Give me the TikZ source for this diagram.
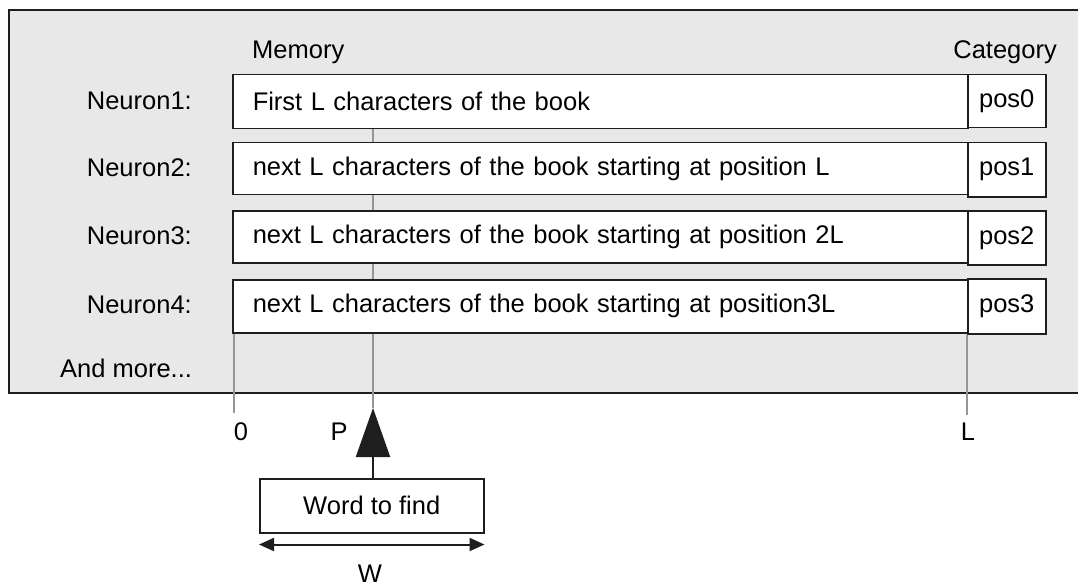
\documentclass[tikz,border=0pt]{standalone}
\usepackage{fontspec}
\setmainfont{Liberation Sans}
\usetikzlibrary{arrows.meta,calc}
\definecolor{bg}{RGB}{232,232,232}
\definecolor{edge}{RGB}{30,30,30}
\definecolor{guide}{RGB}{150,150,150}
\begin{document}
\begin{tikzpicture}[x=1pt,y=-1pt,
  font=\fontsize{25.5}{30}\selectfont,
  membox/.style={draw=edge,line width=1.5pt,fill=white,anchor=north west,
    minimum width=735pt,text width=695pt,inner xsep=20pt,inner ysep=0pt,align=left},
  catbox/.style={draw=edge,line width=1.5pt,fill=white,anchor=north west,
    minimum width=78pt,inner sep=0pt,align=center},
  lbl/.style={anchor=east,inner sep=0pt},
  guideline/.style={draw=guide,line width=1.5pt},
  wordbox/.style={draw=edge,line width=1.5pt,fill=white,anchor=north west,
    minimum width=224pt,minimum height=54pt,inner sep=0pt}]
\useasboundingbox (0,0) rectangle (1078,588);
% outer panel
\fill[bg] (9,10) rectangle (1090,393);
\draw[edge,line width=1.5pt] (1090,10) -- (9,10) -- (9,393) -- (1090,393);
% headers
\node[anchor=west,inner sep=0pt] (mem) at (252,52) {Memory};
\node[anchor=east,inner sep=0pt] (cat) at (1057,52) {Category};
% coordinates of guides
\coordinate (tip) at (373,408);
\coordinate (zero) at (234,413);
\coordinate (lend) at (967,415);
% memory boxes
\node[membox,minimum height=54pt] (m1) at (232,74) {First L characters of the book};
\node[membox,minimum height=52pt] (m2) at (232,142) {next L characters of the book starting at position L};
\node[membox,minimum height=52pt] (m3) at (232,210) {next L characters of the book starting at position 2L};
\node[membox,minimum height=53pt] (m4) at (232,279) {next L characters of the book starting at position3L};
% category boxes
\node[catbox,minimum height=53pt] (c1) at (967,74) {pos0};
\node[catbox,minimum height=54pt] (c2) at (967,142) {pos1};
\node[catbox,minimum height=54pt] (c3) at (967,210) {pos2};
\node[catbox,minimum height=55pt] (c4) at (967,278) {pos3};
% neuron labels
\node[lbl] (n1) at (192,101) {Neuron1:};
\node[lbl] (n2) at (192,168) {Neuron2:};
\node[lbl] (n3) at (192,236) {Neuron3:};
\node[lbl] (n4) at (192,305) {Neuron4:};
\node[anchor=west,inner sep=0pt] (more) at (60,368) {And more...};
% guides
\draw[guideline] (m1.south -| tip) -- (m2.north -| tip);
\draw[guideline] (m2.south -| tip) -- (m3.north -| tip);
\draw[guideline] (m3.south -| tip) -- (m4.north -| tip);
\draw[guideline] (m4.south -| tip) -- (tip);
\draw[guideline] (m4.south -| zero) -- (zero);
\draw[guideline] (c4.south west) -- (lend);
% axis labels
\node[inner sep=0pt] (l0) at (241,432) {0};
\node[inner sep=0pt] (lP) at (339,432) {P};
\node[inner sep=0pt] (lL) at (968,432) {L};
% word box and arrows
\node[wordbox] (w) at (259,478) {Word to find};
\draw[edge,line width=2pt,-{Triangle[length=49pt,width=34pt]}] (w.north -| tip) -- (tip);
\draw[edge,line width=2pt,{Triangle[length=15pt,width=13pt]}-{Triangle[length=15pt,width=13pt]}]
  ([yshift=-11pt]w.south west) -- ([yshift=-11pt]w.south east);
\node[inner sep=0pt] (lW) at (370,574) {W};
\end{tikzpicture}
\end{document}
